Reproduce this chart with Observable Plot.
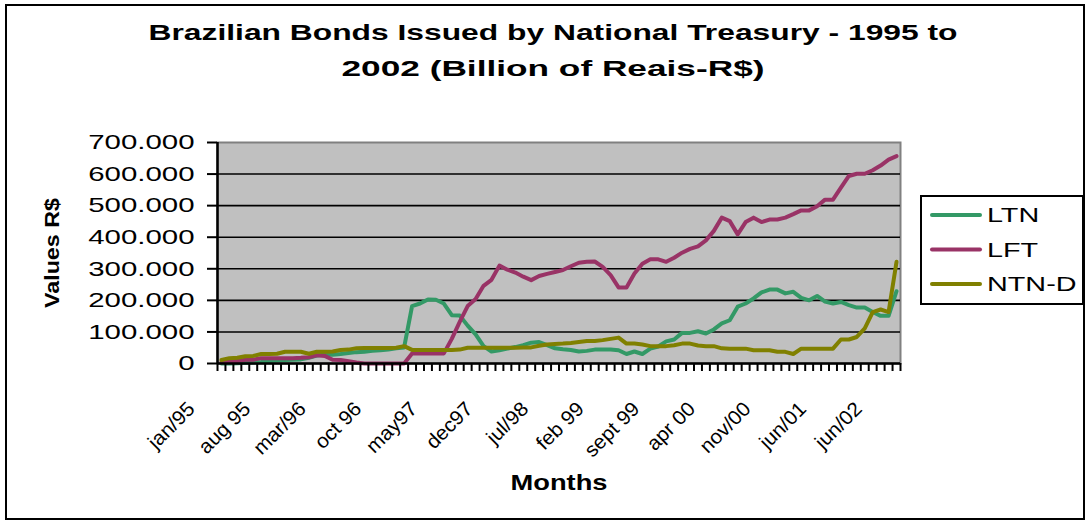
<!DOCTYPE html>
<html><head><meta charset="utf-8">
<script src="https://cdn.jsdelivr.net/npm/d3@7"></script>
<script src="https://cdn.jsdelivr.net/npm/@observablehq/plot@0.6"></script>
<style>
html,body{margin:0;padding:0;background:#fff;}
#chart{position:relative;width:1088px;height:523px;overflow:hidden;}
#border{position:absolute;left:5px;top:4px;width:1080px;height:516px;border:2px solid #000;box-sizing:border-box;pointer-events:none;}
#chart svg{position:absolute;left:0;top:0;}
</style></head><body><div id="chart"><div id="border"></div></div>
<script>
const seriesNames = ["LTN", "LFT", "NTN-D"];
const seriesColors = ["#339966", "#993366", "#808000"];
const monthCount = 86; // jan/95 ... feb/02
const ltn = [0,0,1,2,3,5,8,10,11,12,13,18,25,28,28,30,33,36,37,40,42,44,48,51,
  182,190,203,202,190,153,152,120,92,55,38,42,47,52,58,66,68,58,48,45,43,38,40,44,44,44,42,30,38,30,47,54,70,76,
  97,97,102,95,108,127,137,180,190,206,225,234,234,222,227,208,200,214,196,190,195,185,177,177,163,151,151,229];
const lft = [4,8,8,12,12,17,17,17,17,17,18,20,26,24,12,11,7,3,0,0,0,0,0,0,
  32,32,32,32,32,78,132,182,204,246,265,310,297,288,275,264,277,284,290,296,308,319,322,323,306,280,241,241,285,316,330,330,
  322,335,351,363,371,390,420,462,451,409,448,462,448,456,456,462,473,485,485,498,519,519,557,594,601,601,612,627,646,657];
const ntnd = [11,17,18,23,24,30,30,31,37,37,37,31,37,37,38,43,44,48,49,49,49,49,50,55,
  43,43,43,43,43,43,44,50,50,50,50,50,50,50,51,51,56,60,62,63,65,68,71,71,74,78,82,63,63,60,55,55,55,58,63,63,57,55,55,
  48,47,47,47,42,42,42,37,37,30,47,47,47,47,47,76,76,84,111,163,171,163,322];
const tickLabels = ["jan/95","aug 95","mar/96","oct 96","may97","dec97","jul/98","feb 99","sept 99","apr 00","nov/00","jun/01","jun/02"];
const tickLabelMonth = [0,7,14,21,28,35,42,49,56,63,70,77,84];
const yTicks = [0,100,200,300,400,500,600,700];
const yTickLabels = ["0","100.000","200.000","300.000","400.000","500.000","600.000","700.000"];
const titleLines = ["Brazilian Bonds Issued by National Treasury - 1995 to", "2002 (Billion of Reais-R$)"];
const yTitle = "Values R$";
const xTitle = "Months";

const seriesValues = [ltn, lft, ntnd];
const rows = [];
seriesNames.forEach((s, k) => seriesValues[k].forEach((v, i) => rows.push({series: s, month: i, value: v})));

const font = "'Liberation Sans', Arial, sans-serif";
const plot = Plot.plot({
  width: 1088, height: 523,
  marginLeft: 217, marginRight: 188, marginTop: 142, marginBottom: 160,
  x: {domain: [0, monthCount], axis: null, label: null},
  y: {domain: [0, 700], axis: null, label: null},
  color: {domain: seriesNames, range: seriesColors},
  style: {background: "transparent", fontFamily: font, overflow: "visible", color: "#000"},
  marks: [
    Plot.frame({fill: "#C0C0C0", stroke: "#808080", strokeWidth: 2}),
    Plot.ruleY(yTicks.filter(d => d > 0 && d < 700), {stroke: "#000", strokeWidth: 1.6}),
    Plot.line(rows, {x: d => d.month + 0.5, y: "value", z: "series", stroke: "series", strokeWidth: 4, strokeLinejoin: "round", strokeLinecap: "round"}),
    Plot.ruleX([0], {stroke: "#000", strokeWidth: 2.5}),
    Plot.ruleY([0], {stroke: "#000", strokeWidth: 2.5}),
    Plot.axisY(yTicks, {label: null, tickSize: 10, tickPadding: 13, strokeWidth: 2, fontSize: 21, tickFormat: d => yTickLabels[yTicks.indexOf(d)]}),
    Plot.axisX(d3.range(monthCount + 1), {label: null, tickSize: 8, strokeWidth: 2, tickFormat: () => ""}),
    Plot.text(tickLabelMonth, {x: d => d + 0.5, y: 0, text: (d, i) => tickLabels[i], rotate: -45, textAnchor: "end", lineAnchor: "middle", dx: -30, dy: 42, fontSize: 20, fill: "#000"}),
    Plot.text([yTitle], {frameAnchor: "left", textAnchor: "middle", lineAnchor: "middle", dx: -165, rotate: -90, fontSize: 20, fontWeight: "bold", fill: "#000"}),
    Plot.text([xTitle], {frameAnchor: "bottom", lineAnchor: "middle", dy: 119, fontSize: 22, fontWeight: "bold", fill: "#000"}),
    Plot.text([titleLines[0]], {frameAnchor: "top", lineAnchor: "middle", dx: -6, dy: -110, fontSize: 22, fontWeight: "bold", fill: "#000"}),
    Plot.text([titleLines[1]], {frameAnchor: "top", lineAnchor: "middle", dx: -6, dy: -74, fontSize: 22, fontWeight: "bold", fill: "#000"})
  ]
});
document.getElementById("chart").appendChild(plot);

// legend
const svg = d3.select(plot);
const lg = svg.append("g").attr("aria-label", "legend");
const lx = 921, ly = 196, lw = 162, lh = 108;
lg.append("rect").attr("x", lx).attr("y", ly).attr("width", lw).attr("height", lh).attr("fill", "#fff").attr("stroke", "#000").attr("stroke-width", 2);
seriesNames.forEach((s, k) => {
  const cy = ly + 19 + k * 34.5;
  lg.append("line").attr("x1", lx + 11).attr("x2", lx + 59).attr("y1", cy).attr("y2", cy).attr("stroke", seriesColors[k]).attr("stroke-width", 4).attr("stroke-linecap", "round");
  lg.append("text").attr("x", lx + 66).attr("y", cy).attr("dy", "0.35em").attr("text-anchor", "start").attr("font-size", 21).attr("font-family", font).attr("fill", "#000").text(s);
});

// Excel-like horizontally widened lettering
const widths = new Map([[titleLines[0], 809], [titleLines[1], 423], [yTitle, 110], [xTitle, 97]]);
svg.selectAll("text").each(function () {
  const t = this.textContent;
  const len = this.getComputedTextLength();
  if (!(len > 0)) return;
  let target;
  if (widths.has(t)) target = widths.get(t);
  else if (yTickLabels.includes(t)) target = len * 1.4;
  else if (tickLabels.includes(t)) target = len * 1.04;
  else if (seriesNames.includes(t)) target = len * 1.37;
  else return;
  this.setAttribute("textLength", target);
  this.setAttribute("lengthAdjust", "spacingAndGlyphs");
});
</script></body></html>
